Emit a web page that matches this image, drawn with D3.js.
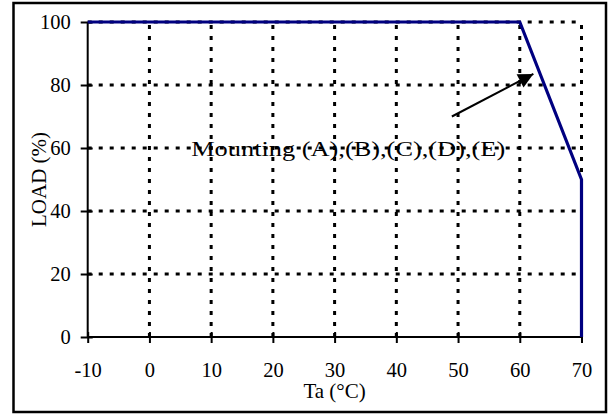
<!DOCTYPE html>
<html>
<head>
<meta charset="utf-8">
<script src="https://cdn.jsdelivr.net/npm/d3@7"></script>
<style>
  body { margin: 0; background: #fff; }
  text { font-family: "Liberation Serif", "Times New Roman", serif; fill: #000; }
</style>
</head>
<body>
<div id="chart-container"></div>
<script>
// chart data
const xTicks = [-10, 0, 10, 20, 30, 40, 50, 60, 70];
const yTicks = [0, 20, 40, 60, 80, 100];
const curveTa = [-10, 60, 70, 70];
const curveLoad = [100, 100, 50, 0];
const noteText = "Mounting (A),(B),(C),(D),(E)";
const notePos = [32.2, 60];
const arrowFrom = [49, 70];
const arrowTo = [62.2, 83.5];

drawChart();

function drawChart(){
  const svgWidth = 614, svgHeight = 415;
  const margin = {top: 22, right: 32.5, bottom: 78, left: 87.7};
  const width = svgWidth - margin.left - margin.right,
        height = svgHeight - margin.top - margin.bottom;

  const svg = d3.select("#chart-container").append("svg")
    .attr("width", svgWidth)
    .attr("height", svgHeight);

  // outer frame
  svg.append("rect")
    .attr("x", 13.5).attr("y", 3)
    .attr("width", 592.5).attr("height", 409)
    .attr("fill", "none")
    .attr("stroke", "#000")
    .attr("stroke-width", 2.5);

  const defs = svg.append("defs");
  defs.append("marker")
    .attr("id", "arrowhead")
    .attr("viewBox", "0 0 10 10")
    .attr("refX", 10).attr("refY", 5)
    .attr("markerWidth", 16).attr("markerHeight", 15)
    .attr("markerUnits", "userSpaceOnUse")
    .attr("orient", "auto")
    .append("path")
    .attr("d", "M0,0L10,5L0,10Z")
    .attr("fill", "#000");

  const g = svg.append("g")
    .attr("transform", `translate(${margin.left},${margin.top})`);

  const x = d3.scaleLinear().domain([-10, 70]).range([0, width]);
  const y = d3.scaleLinear().domain([0, 100]).range([height, 0]);

  // annotation text (under the grid), glyphs stretched wide like the original
  const noteWidth = 314;
  g.append("text")
    .attr("x", x(notePos[0]) - noteWidth / 2)
    .attr("y", y(notePos[1]))
    .attr("dy", "0.35em")
    .attr("textLength", noteWidth)
    .attr("lengthAdjust", "spacingAndGlyphs")
    .style("font-size", "22px")
    .text(noteText);

  // dotted grid
  g.append("g").selectAll("line")
    .data(xTicks.filter(d => d > -10))
    .enter().append("line")
    .attr("x1", d => x(d)).attr("x2", d => x(d))
    .attr("y1", y(0)).attr("y2", y(100))
    .attr("stroke", "#000")
    .attr("stroke-width", 3)
    .attr("stroke-dasharray", "4,7");

  g.append("g").selectAll("line")
    .data(yTicks.filter(d => d > 0))
    .enter().append("line")
    .attr("x1", x(-10)).attr("x2", x(70))
    .attr("y1", d => y(d)).attr("y2", d => y(d))
    .attr("stroke", "#000")
    .attr("stroke-width", 3)
    .attr("stroke-dasharray", "4,7");

  // axes (plain hyphen for negatives, like the original)
  const fmt = d => String(d);
  const xAxis = g.append("g")
    .attr("transform", `translate(0,${height})`)
    .call(d3.axisBottom(x).tickValues(xTicks).tickSize(6).tickPadding(19).tickFormat(fmt));
  const yAxis = g.append("g")
    .call(d3.axisLeft(y).tickValues(yTicks).tickSize(7).tickPadding(10).tickFormat(fmt));

  [xAxis, yAxis].forEach(ax => {
    ax.select(".domain").attr("stroke", "#000").attr("stroke-width", 2);
    ax.selectAll(".tick line").attr("stroke", "#000").attr("stroke-width", 2);
    ax.selectAll(".tick text")
      .style("font-family", '"Liberation Serif", "Times New Roman", serif')
      .style("font-size", "20.5px");
  });
  xAxis.select(".domain").attr("d", `M0,0H${width}`);
  yAxis.select(".domain").attr("d", `M0,${height}V0`);
  xAxis.selectAll(".tick line").attr("y1", -5);
  yAxis.selectAll(".tick line").attr("x1", 5);

  // derating curve
  const line = d3.line().x(d => x(d[0])).y(d => y(d[1]));
  g.append("path")
    .datum(d3.zip(curveTa, curveLoad))
    .attr("d", line)
    .attr("fill", "none")
    .attr("stroke", "#000080")
    .attr("stroke-width", 3.2);

  // arrow
  g.append("line")
    .attr("x1", x(arrowFrom[0])).attr("y1", y(arrowFrom[1]))
    .attr("x2", x(arrowTo[0])).attr("y2", y(arrowTo[1]))
    .attr("stroke", "#000")
    .attr("stroke-width", 2)
    .attr("marker-end", "url(#arrowhead)");

  // axis titles
  g.append("text")
    .attr("x", width / 2)
    .attr("y", height + 61)
    .attr("text-anchor", "middle")
    .style("font-size", "21px")
    .text("Ta (°C)");

  g.append("text")
    .attr("transform", `translate(${46 - margin.left},${height / 2}) rotate(-90)`)
    .attr("text-anchor", "middle")
    .style("font-size", "21px")
    .text("LOAD (%)");
}
</script>
</body>
</html>
